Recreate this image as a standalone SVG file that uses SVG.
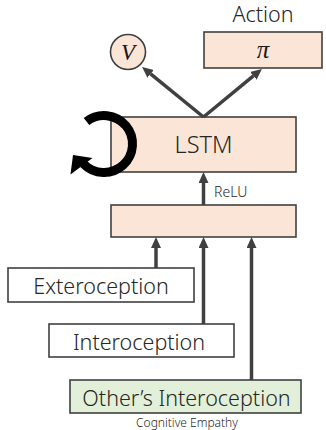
<svg xmlns="http://www.w3.org/2000/svg" width="326" height="430" viewBox="0 0 326 430">
  <defs>
    <style>
      .box { stroke: #404040; stroke-width: 1.6; }
      .peach { fill: #FBE5D6; }
      .green { fill: #E2F0D9; }
      .white { fill: #FFFFFF; }
      .lbl { font-family: "Noto Sans", "Liberation Sans", sans-serif; font-weight: 350; fill: #262626; text-anchor: middle; }
      .math { font-family: "Liberation Serif", "DejaVu Serif", serif; font-style: italic; fill: #1a1a1a; text-anchor: middle; }
      .edge { stroke: #404040; stroke-width: 3.5; fill: none; marker-end: url(#head); }
    </style>
    <marker id="head" markerUnits="userSpaceOnUse" viewBox="0 0 11 10" markerWidth="11" markerHeight="10" refX="0" refY="5" orient="auto">
      <path d="M0,0 L11,5 L0,10 Z" fill="#404040"/>
    </marker>
  </defs>

  <!-- Output heads -->
  <g id="value">
    <circle cx="128" cy="52" r="17.5" class="box peach"/>
    <text x="128" y="59.5" font-size="23" class="math">V</text>
  </g>
  <g id="policy">
    <text x="263" y="22" font-size="21.5" class="lbl">Action</text>
    <rect x="204" y="32" width="118" height="36" class="box peach"/>
    <text x="263" y="58" font-size="25" class="math">π</text>
  </g>

  <!-- Recurrent core -->
  <g id="lstm">
    <rect x="111" y="117" width="185" height="55" class="box peach"/>
    <text x="203.5" y="152.5" font-size="23.5" class="lbl">LSTM</text>
  </g>
  <g id="recurrence">
    <path d="M86.5,121.5 A28.5,28.5 0 1 1 83.5,163.8" fill="none" stroke="#000000" stroke-width="9"/>
    <polygon points="73,155 70.5,174.5 92.5,158" fill="#000000"/>
  </g>

  <!-- Embedding layer -->
  <g id="embedding">
    <rect x="111" y="205" width="185" height="32" class="box peach"/>
  </g>

  <!-- Inputs -->
  <g id="exteroception">
    <rect x="8" y="268" width="186" height="34" class="box white"/>
    <text x="101" y="294" font-size="21.5" class="lbl">Exteroception</text>
  </g>
  <g id="interoception">
    <rect x="49" y="324" width="185" height="33" class="box white"/>
    <text x="139" y="349.5" font-size="21.5" class="lbl">Interoception</text>
  </g>
  <g id="other-interoception">
    <rect x="70" y="380" width="231" height="33" class="box green"/>
    <text x="186.5" y="405.5" font-size="21.5" class="lbl">Other’s Interoception</text>
    <text x="187" y="427" font-size="12" class="lbl">Cognitive Empathy</text>
  </g>

  <!-- Connectors -->
  <g id="connectors">
    <line x1="203.5" y1="117" x2="150.6" y2="73.9" class="edge"/>
    <line x1="203.5" y1="117" x2="253.4" y2="75.9" class="edge"/>
    <line x1="203.5" y1="205" x2="203.5" y2="183" class="edge"/>
    <text x="214" y="197" font-size="14" class="lbl" style="text-anchor:start">ReLU</text>
    <line x1="156" y1="268" x2="156" y2="248" class="edge"/>
    <line x1="203.5" y1="324" x2="203.5" y2="248" class="edge"/>
    <line x1="251.5" y1="380" x2="251.5" y2="248" class="edge"/>
  </g>
</svg>
